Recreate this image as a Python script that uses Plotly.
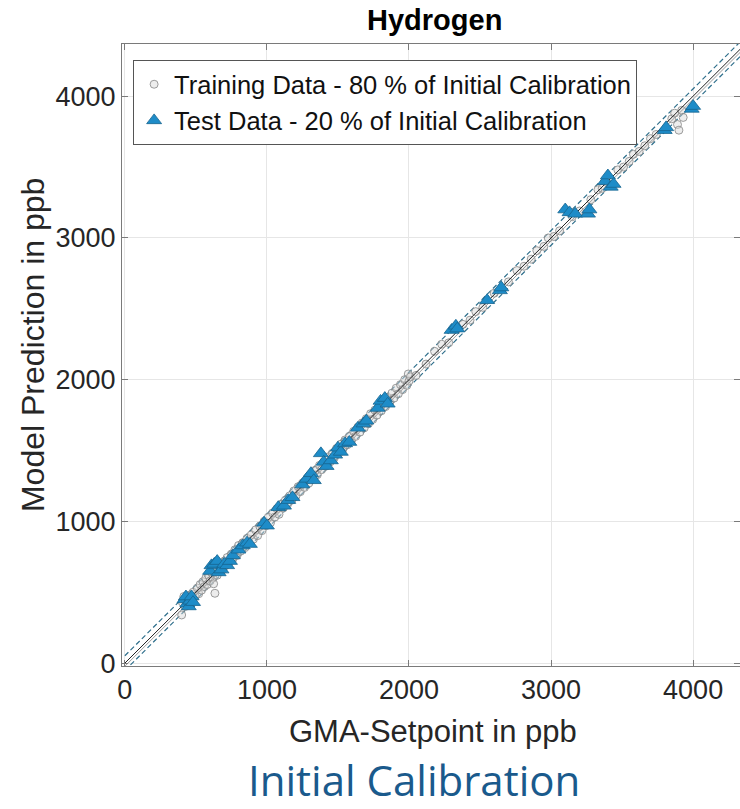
import plotly.graph_objects as go

# ---- data ----
train_x = [400, 405, 415, 425, 435, 445, 455, 465, 480, 495, 510, 520, 530, 540, 550, 560, 570, 580, 590, 600,
           610, 620, 625, 634, 640, 650, 660, 670, 680, 690, 700, 710, 720, 735, 750, 760, 775, 790, 800, 815,
           830, 845, 860, 875, 890, 905, 920, 935, 950, 965, 980, 995, 1010, 1025, 1040, 1055, 1070, 1085, 1100, 1115,
           1130, 1145, 1160, 1175, 1190, 1205, 1220, 1235, 1250, 1265, 1280, 1295, 1310, 1325, 1340, 1355, 1370, 1385, 1400, 1415,
           1430, 1445, 1460, 1475, 1490, 1505, 1520, 1535, 1550, 1565, 1580, 1595, 1610, 1625, 1640, 1655, 1670, 1685, 1700, 1715,
           1730, 1745, 1760, 1775, 1790, 1805, 1820, 1835, 1850, 1865, 1880, 1895, 1910, 1925, 1940, 1955, 1970, 1985, 1995, 2000,
           2010, 2050, 2120, 2180, 2230, 2280, 2380, 2430, 2470, 2520, 2600, 2700, 2760, 2810, 2860, 2900, 2950, 2980, 3020, 3060,
           3150, 3200, 3280, 3330, 3360, 3470, 3510, 3550, 3580, 3620, 3660, 3700, 3740, 3850, 3870, 3890, 3900, 3920, 3930]
train_y = [340, 430, 470, 400, 455, 420, 480, 445, 500, 470, 530, 490, 555, 515, 575, 540, 600, 555, 620, 580,
           640, 600, 560, 493, 665, 620, 690, 645, 700, 660, 720, 690, 745, 710, 770, 735, 800, 760, 830, 790,
           850, 815, 880, 850, 905, 875, 940, 900, 965, 935, 1000, 970, 1030, 990, 1060, 1030, 1090, 1050, 1120, 1095,
           1150, 1120, 1180, 1150, 1215, 1180, 1245, 1210, 1270, 1240, 1300, 1270, 1335, 1300, 1360, 1330, 1395, 1365, 1420, 1390,
           1455, 1420, 1480, 1450, 1515, 1480, 1545, 1510, 1575, 1540, 1600, 1570, 1635, 1600, 1665, 1630, 1695, 1660, 1725, 1690,
           1760, 1720, 1785, 1750, 1815, 1780, 1850, 1810, 1875, 1840, 1905, 1870, 1940, 1900, 1965, 1930, 2000, 1960, 2040, 1990,
           2020, 2030, 2110, 2200, 2250, 2260, 2390, 2420, 2480, 2510, 2610, 2690, 2770, 2800, 2850, 2910, 2940, 3000, 3010, 3050,
           3150, 3190, 3270, 3340, 3350, 3480, 3500, 3540, 3590, 3610, 3650, 3700, 3730, 3840, 3880, 3800, 3760, 3900, 3850]

test_x = [420, 430, 440, 450, 460, 470, 480,
          600, 610, 630, 650, 660, 680, 700, 720, 740, 760,
          800, 830, 860, 880,
          980, 1000,
          1080, 1120, 1150, 1180,
          1250, 1280, 1310, 1330,
          1380, 1400, 1420, 1450,
          1480, 1500, 1520, 1550, 1580,
          1640, 1680, 1700,
          1780, 1800, 1830, 1850,
          2300, 2330, 2340,
          2550, 2640, 2650,
          3100, 3130, 3170, 3260, 3270,
          3380, 3400, 3420, 3440,
          3800, 3810, 3990, 4000]
test_y = [450, 470, 420, 400, 440, 470, 430,
          650, 690, 700, 720, 640, 660, 700, 690, 720, 760,
          800, 830, 850, 840,
          990, 970,
          1100, 1110, 1150, 1170,
          1260, 1300, 1340, 1290,
          1480, 1420, 1390, 1430,
          1470, 1520, 1490, 1550, 1560,
          1660, 1690, 1710,
          1800, 1850, 1870, 1830,
          2350, 2380, 2360,
          2560, 2630, 2650,
          3200, 3180, 3170, 3170, 3200,
          3400, 3440, 3360, 3380,
          3760, 3780, 3910, 3930]

ref_x = [0, 4500]          # identity / tolerance reference lines
tol_band = 52              # ppb half-width of dashed tolerance band
fit_offset = -22           # ppb offset of the grey fit line

x_ticks = [0, 1000, 2000, 3000, 4000]
y_ticks = [0, 1000, 2000, 3000, 4000]

fig = go.Figure()

fig.add_trace(go.Scatter(x=ref_x, y=[v + tol_band for v in ref_x], mode="lines",
                         line=dict(color="#2f6f8c", width=1.2, dash="5px,3px"), showlegend=False, hoverinfo="skip"))
fig.add_trace(go.Scatter(x=ref_x, y=[v - tol_band for v in ref_x], mode="lines",
                         line=dict(color="#2f6f8c", width=1.2, dash="5px,3px"), showlegend=False, hoverinfo="skip"))

fig.add_trace(go.Scatter(
    x=train_x, y=train_y, mode="markers", name="Training Data - 80 % of Initial Calibration",
    marker=dict(symbol="circle", size=8, color="rgba(215,215,215,0.45)",
                line=dict(color="rgba(140,140,140,0.85)", width=1))))

fig.add_trace(go.Scatter(x=ref_x, y=ref_x, mode="lines",
                         line=dict(color="#222222", width=1), showlegend=False, hoverinfo="skip"))
fig.add_trace(go.Scatter(x=ref_x, y=[v + fit_offset for v in ref_x], mode="lines",
                         line=dict(color="#9a9a9a", width=1), showlegend=False, hoverinfo="skip"))

fig.add_trace(go.Scatter(
    x=test_x, y=test_y, mode="markers", name="Test Data - 20 % of Initial Calibration",
    marker=dict(symbol="triangle-up", size=13, color="#1e8cc8",
                line=dict(color="#16658f", width=0.8))))

axis_common = dict(
    showgrid=True, gridcolor="#e6e6e6", gridwidth=1, zeroline=False,
    showline=True, linecolor="#7a7a7a", linewidth=1, mirror="allticks",
    ticks="inside", ticklen=6, tickcolor="#7a7a7a",
    tickfont=dict(family="Liberation Sans, Arial, sans-serif", size=27, color="#262626"),
)

fig.update_xaxes(range=[-20, 4330], tickvals=x_ticks, ticktext=[str(t) for t in x_ticks], **axis_common)
fig.update_yaxes(range=[-20, 4368], tickvals=y_ticks, ticktext=[str(t) for t in y_ticks], **axis_common)

fig.update_layout(
    width=740, height=809,
    margin=dict(l=122, r=0, t=44, b=143),
    plot_bgcolor="white", paper_bgcolor="white",
    legend=dict(x=0.018, y=0.974, xanchor="left", yanchor="top",
                bgcolor="white", bordercolor="#555555", borderwidth=1,
                font=dict(family="Liberation Sans, Arial, sans-serif", size=25.5, color="#111111"),
                tracegroupgap=0, itemsizing="trace"),
    annotations=[
        dict(text="<b>Hydrogen</b>", x=0.505, y=1.0386, xref="paper", yref="paper",
             xanchor="center", yanchor="middle", showarrow=False,
             font=dict(family="Liberation Sans, Arial, sans-serif", size=29, color="#000000")),
        dict(text="GMA-Setpoint in ppb", x=0.504, y=-0.106, xref="paper", yref="paper",
             xanchor="center", yanchor="middle", showarrow=False,
             font=dict(family="Liberation Sans, Arial, sans-serif", size=31, color="#262626")),
        dict(text="Model Prediction in ppb", x=-0.144, y=0.516, xref="paper", yref="paper",
             xanchor="center", yanchor="middle", showarrow=False, textangle=-90,
             font=dict(family="Liberation Sans, Arial, sans-serif", size=32, color="#262626")),
        dict(text="Initial Calibration", x=0.4725, y=-0.183, xref="paper", yref="paper",
             xanchor="center", yanchor="middle", showarrow=False,
             font=dict(family="Open Sans, sans-serif", size=42, color="#1a5a8c")),
    ],
)

fig.write_html("out.html", config={"displayModeBar": False},
               post_script="document.body.style.margin='0';document.body.style.overflow='hidden';")
